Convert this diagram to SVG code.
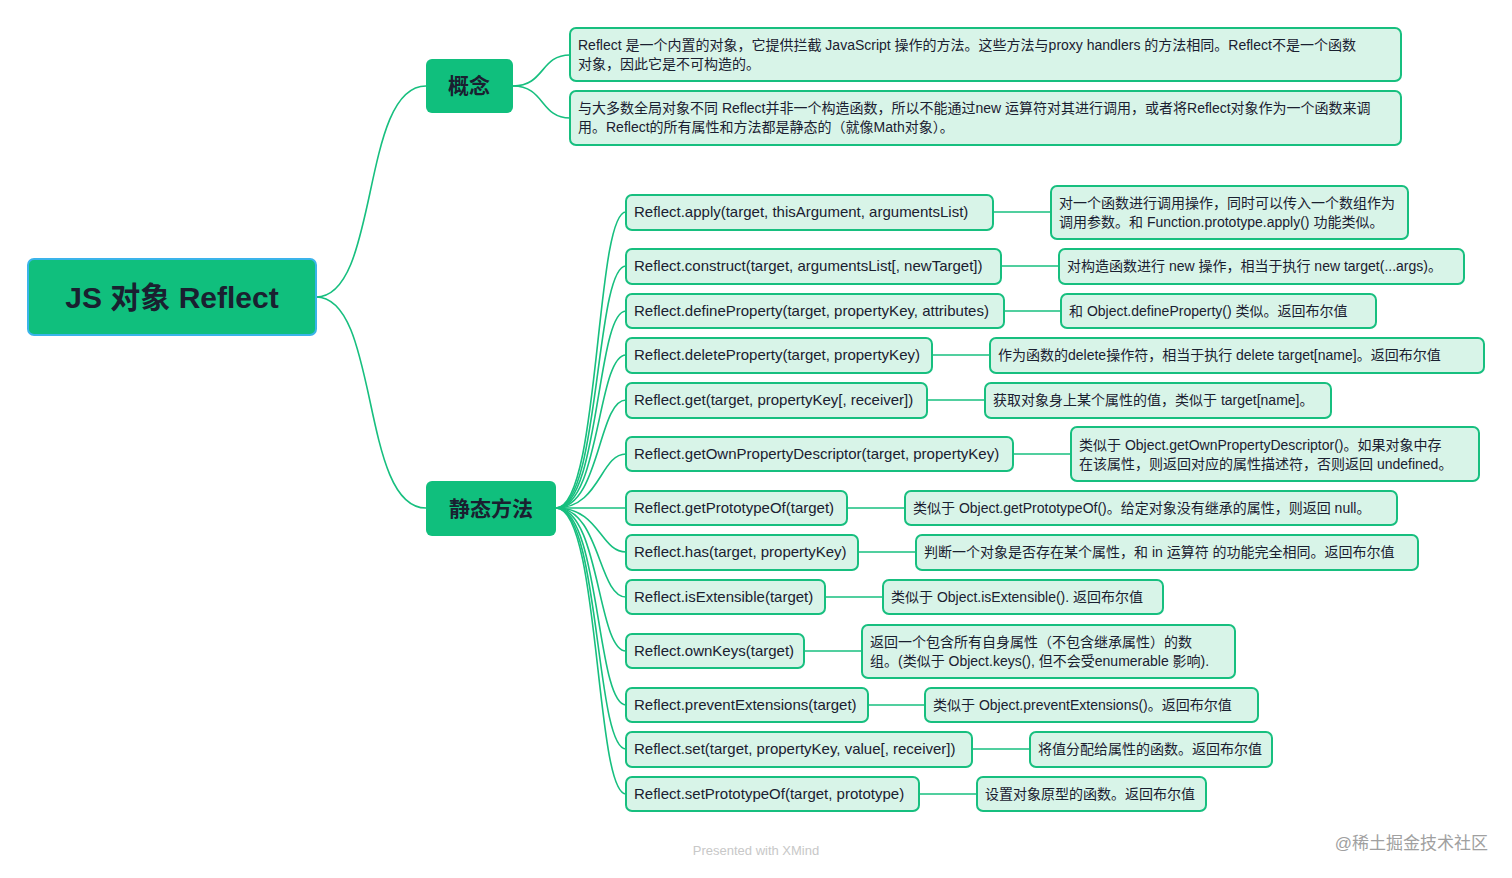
<svg xmlns="http://www.w3.org/2000/svg" width="1512" height="878" viewBox="0 0 1512 878">
<style>
text{font-family:"Liberation Sans","Noto Sans CJK SC",sans-serif;fill:#1a2030}
.leaf rect{fill:#d8f4e8;stroke:#17bf7f;stroke-width:2}
.leaf text{font-size:14px}
.m text{font-size:15px}
.br rect{fill:#10bf7d}
.br text{font-size:21px;font-weight:bold;text-anchor:middle}
#conn path{fill:none;stroke:#17bf7f;stroke-width:1.6}
</style>
<rect width="1512" height="878" fill="#fff"/>
<g id="conn">
<path d="M316,297 C380,297 360,86 426,86"/>
<path d="M316,297 C380,297 360,508 426,508"/>
<path d="M513,86 C545,86 540,55 570,55"/>
<path d="M513,86 C545,86 540,118 570,118"/>
<path d="M556,508 C600,508 595,212 626,212"/>
<path d="M556,508 C600,508 595,266 626,266"/>
<path d="M556,508 C600,508 596,311 626,311"/>
<path d="M556,508 C600,508 597,355 626,355"/>
<path d="M556,508 C600,508 598,400 626,400"/>
<path d="M556,508 C600,508 600,454 626,454"/>
<path d="M556,508 L626,508"/>
<path d="M556,508 C600,508 600,552 626,552"/>
<path d="M556,508 C600,508 598,597 626,597"/>
<path d="M556,508 C600,508 597,651 626,651"/>
<path d="M556,508 C600,508 596,705 626,705"/>
<path d="M556,508 C600,508 595,749 626,749"/>
<path d="M556,508 C600,508 595,794 626,794"/>
<path d="M993,212 H1051"/><path d="M1001,266 H1059"/><path d="M1004,311 H1061"/>
<path d="M932,355 H990"/><path d="M927,400 H985"/><path d="M1013,454 H1071"/>
<path d="M847,508 H905"/><path d="M858,552 H916"/><path d="M825,597 H883"/>
<path d="M804,651 H862"/><path d="M868,705 H925"/><path d="M972,749 H1030"/>
<path d="M919,794 H977"/>
</g>
<g id="root"><rect x="28" y="259" width="288" height="76" rx="6" fill="#10bf7d" stroke="#3ab4ea" stroke-width="2"/>
<text x="172" y="308" font-size="30" font-weight="bold" text-anchor="middle">JS 对象 Reflect</text></g>
<g id="concept" class="br"><rect x="426" y="59" width="87" height="54" rx="6"/><text x="469" y="93">概念</text></g>
<g id="static" class="br"><rect x="426" y="481" width="130" height="55" rx="6"/><text x="491" y="516">静态方法</text></g>
<g id="c1" class="leaf"><rect x="570" y="28" width="831" height="53" rx="6"/><text x="578" y="50">Reflect 是一个内置的对象，它提供拦截 JavaScript 操作的方法。这些方法与proxy handlers 的方法相同。Reflect不是一个函数</text><text x="578" y="69">对象，因此它是不可构造的。</text></g>
<g id="c2" class="leaf"><rect x="570" y="91" width="831" height="54" rx="6"/><text x="578" y="113">与大多数全局对象不同 Reflect并非一个构造函数，所以不能通过new 运算符对其进行调用，或者将Reflect对象作为一个函数来调</text><text x="578" y="132">用。Reflect的所有属性和方法都是静态的（就像Math对象）。</text></g>
<g id="m1" class="leaf m"><rect x="626" y="195" width="367" height="35" rx="6"/><text x="634" y="217">Reflect.apply(target, thisArgument, argumentsList)</text></g>
<g id="d1" class="leaf"><rect x="1051" y="186" width="357" height="53" rx="6"/><text x="1059" y="208">对一个函数进行调用操作，同时可以传入一个数组作为</text><text x="1059" y="227">调用参数。和 Function.prototype.apply() 功能类似。</text></g>
<g id="m2" class="leaf m"><rect x="626" y="249" width="375" height="35" rx="6"/><text x="634" y="271">Reflect.construct(target, argumentsList[, newTarget])</text></g>
<g id="d2" class="leaf"><rect x="1059" y="249" width="405" height="35" rx="6"/><text x="1067" y="271">对构造函数进行 new 操作，相当于执行 new target(...args)。</text></g>
<g id="m3" class="leaf m"><rect x="626" y="294" width="378" height="34" rx="6"/><text x="634" y="316">Reflect.defineProperty(target, propertyKey, attributes)</text></g>
<g id="d3" class="leaf"><rect x="1061" y="294" width="315" height="34" rx="6"/><text x="1069" y="316">和 Object.defineProperty() 类似。返回布尔值</text></g>
<g id="m4" class="leaf m"><rect x="626" y="338" width="306" height="35" rx="6"/><text x="634" y="360">Reflect.deleteProperty(target, propertyKey)</text></g>
<g id="d4" class="leaf"><rect x="990" y="338" width="494" height="35" rx="6"/><text x="998" y="360">作为函数的delete操作符，相当于执行 delete target[name]。返回布尔值</text></g>
<g id="m5" class="leaf m"><rect x="626" y="383" width="301" height="35" rx="6"/><text x="634" y="405">Reflect.get(target, propertyKey[, receiver])</text></g>
<g id="d5" class="leaf"><rect x="985" y="383" width="346" height="35" rx="6"/><text x="993" y="405">获取对象身上某个属性的值，类似于 target[name]。</text></g>
<g id="m6" class="leaf m"><rect x="626" y="437" width="387" height="34" rx="6"/><text x="634" y="459">Reflect.getOwnPropertyDescriptor(target, propertyKey)</text></g>
<g id="d6" class="leaf"><rect x="1071" y="427" width="408" height="54" rx="6"/><text x="1079" y="450">类似于 Object.getOwnPropertyDescriptor()。如果对象中存</text><text x="1079" y="469">在该属性，则返回对应的属性描述符，否则返回 undefined。</text></g>
<g id="m7" class="leaf m"><rect x="626" y="491" width="221" height="34" rx="6"/><text x="634" y="513">Reflect.getPrototypeOf(target)</text></g>
<g id="d7" class="leaf"><rect x="905" y="491" width="492" height="34" rx="6"/><text x="913" y="513">类似于 Object.getPrototypeOf()。给定对象没有继承的属性，则返回 null。</text></g>
<g id="m8" class="leaf m"><rect x="626" y="535" width="232" height="35" rx="6"/><text x="634" y="557">Reflect.has(target, propertyKey)</text></g>
<g id="d8" class="leaf"><rect x="916" y="535" width="502" height="35" rx="6"/><text x="924" y="557">判断一个对象是否存在某个属性，和 in 运算符 的功能完全相同。返回布尔值</text></g>
<g id="m9" class="leaf m"><rect x="626" y="580" width="199" height="34" rx="6"/><text x="634" y="602">Reflect.isExtensible(target)</text></g>
<g id="d9" class="leaf"><rect x="883" y="580" width="280" height="34" rx="6"/><text x="891" y="602">类似于 Object.isExtensible(). 返回布尔值</text></g>
<g id="m10" class="leaf m"><rect x="626" y="634" width="178" height="34" rx="6"/><text x="634" y="656">Reflect.ownKeys(target)</text></g>
<g id="d10" class="leaf"><rect x="862" y="625" width="373" height="53" rx="6"/><text x="870" y="647">返回一个包含所有自身属性（不包含继承属性）的数</text><text x="870" y="666">组。(类似于 Object.keys(), 但不会受enumerable 影响).</text></g>
<g id="m11" class="leaf m"><rect x="626" y="688" width="242" height="34" rx="6"/><text x="634" y="710">Reflect.preventExtensions(target)</text></g>
<g id="d11" class="leaf"><rect x="925" y="688" width="333" height="34" rx="6"/><text x="933" y="710">类似于 Object.preventExtensions()。返回布尔值</text></g>
<g id="m12" class="leaf m"><rect x="626" y="732" width="346" height="35" rx="6"/><text x="634" y="754">Reflect.set(target, propertyKey, value[, receiver])</text></g>
<g id="d12" class="leaf"><rect x="1030" y="732" width="242" height="35" rx="6"/><text x="1038" y="754">将值分配给属性的函数。返回布尔值</text></g>
<g id="m13" class="leaf m"><rect x="626" y="777" width="293" height="34" rx="6"/><text x="634" y="799">Reflect.setPrototypeOf(target, prototype)</text></g>
<g id="d13" class="leaf"><rect x="977" y="777" width="229" height="34" rx="6"/><text x="985" y="799">设置对象原型的函数。返回布尔值</text></g>
<text x="756" y="855" font-size="13" text-anchor="middle" style="fill:#c8c8c8">Presented with XMind</text>
<text x="1488" y="849" font-size="17" text-anchor="end" style="fill:#a0a0a0">@稀土掘金技术社区</text>
</svg>
